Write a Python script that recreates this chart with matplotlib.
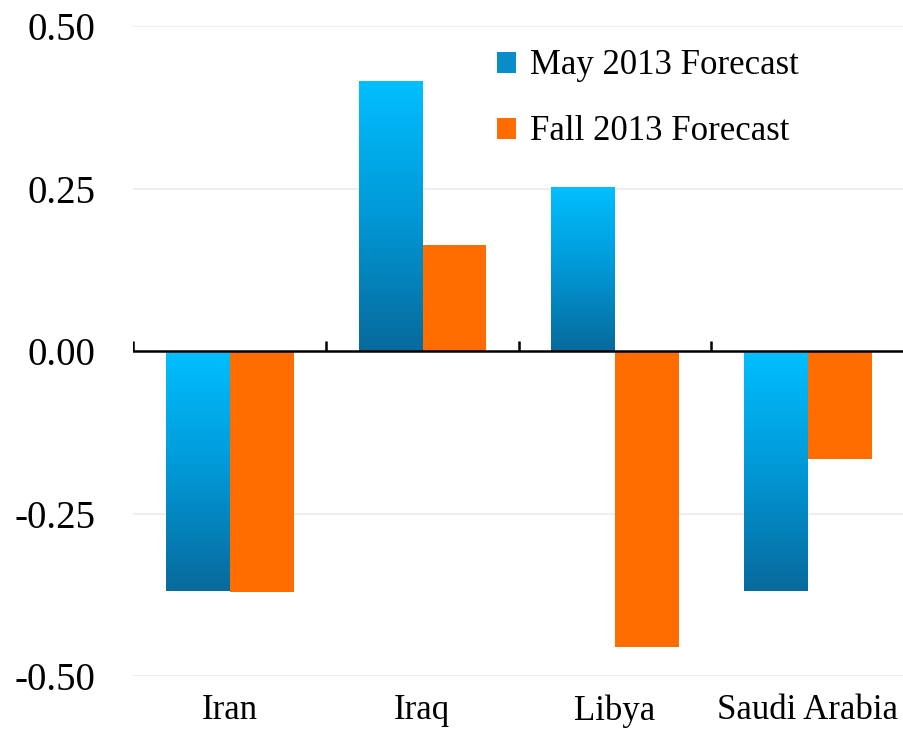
import numpy as np
import matplotlib
matplotlib.use("Agg")
import matplotlib.pyplot as plt
from matplotlib.colors import LinearSegmentedColormap
from matplotlib.patches import Patch

# data
paises = ["Iran", "Iraq", "Libya", "Saudi Arabia"]
mayo_2013 = [-0.37, 0.415, 0.253, -0.37]
otono_2013 = [-0.37, 0.163, -0.455, -0.166]
etiquetas_y = ["-0.50", "-0.25", "0.00", "0.25", "0.50"]
valores_y = [-0.50, -0.25, 0.00, 0.25, 0.50]

plt.rcParams['font.family'] = ['Liberation Serif', 'DejaVu Serif']

fig = plt.figure(figsize=(9.04, 7.31), dpi=100)
ax = fig.add_axes([133 / 904, 55 / 731, 771 / 904, 650 / 731])

x = np.arange(len(paises))
ancho = 0.33

# gradiente azul (claro arriba, oscuro abajo)
cmap_azul = LinearSegmentedColormap.from_list("azul", ["#086A9C", "#0098D6", "#00BFFF"])
grad = np.linspace(0, 1, 256).reshape(-1, 1)

barras_mayo = ax.bar(x - ancho / 2, mayo_2013, ancho, color="none", edgecolor="none", zorder=2)
for b in barras_mayo:
    x0, y0 = b.get_x(), b.get_y()
    w, h = b.get_width(), b.get_height()
    y_bajo, y_alto = min(y0, y0 + h), max(y0, y0 + h)
    img = ax.imshow(grad, cmap=cmap_azul, aspect="auto", origin="lower",
                    extent=[x0, x0 + w, y_bajo, y_alto], zorder=2)
    img.set_clip_path(b)

ax.bar(x + ancho / 2 + 0.003, otono_2013, ancho, color="#FF6D00", edgecolor="none", zorder=2)

ax.set_xlim(-0.5, len(paises) - 0.5)
ax.set_ylim(-0.5, 0.5)

# grid y linea del cero
for v in valores_y:
    if v != 0:
        ax.axhline(v, color="#EBEBEB", lw=1.2, zorder=0)
ax.axhline(0, color="black", lw=1.8, zorder=3)
ax.vlines(np.arange(len(paises)) - 0.5, 0, 0.016, color="black", lw=1.8, zorder=3)

for s in ax.spines.values():
    s.set_visible(False)

ax.set_yticks(valores_y)
ax.set_yticklabels(etiquetas_y, fontsize=28)
ax.set_xticks(x)
ax.set_xticklabels(paises, fontsize=25)
ax.tick_params(axis="y", length=0, pad=27)
ax.tick_params(axis="x", length=0, pad=13)

handles = [Patch(facecolor="#0A8CC8", label="May 2013 Forecast"),
           Patch(facecolor="#FF6D00", label="Fall 2013 Forecast")]
fig.legend(handles=handles, loc="upper left", bbox_to_anchor=(480 / 904, 1 - 32 / 731),
           frameon=False, fontsize=25, handlelength=0.55, handleheight=0.55,
           handletextpad=0.4, labelspacing=0.95, borderpad=0)

fig.savefig("out.png", dpi=100)
